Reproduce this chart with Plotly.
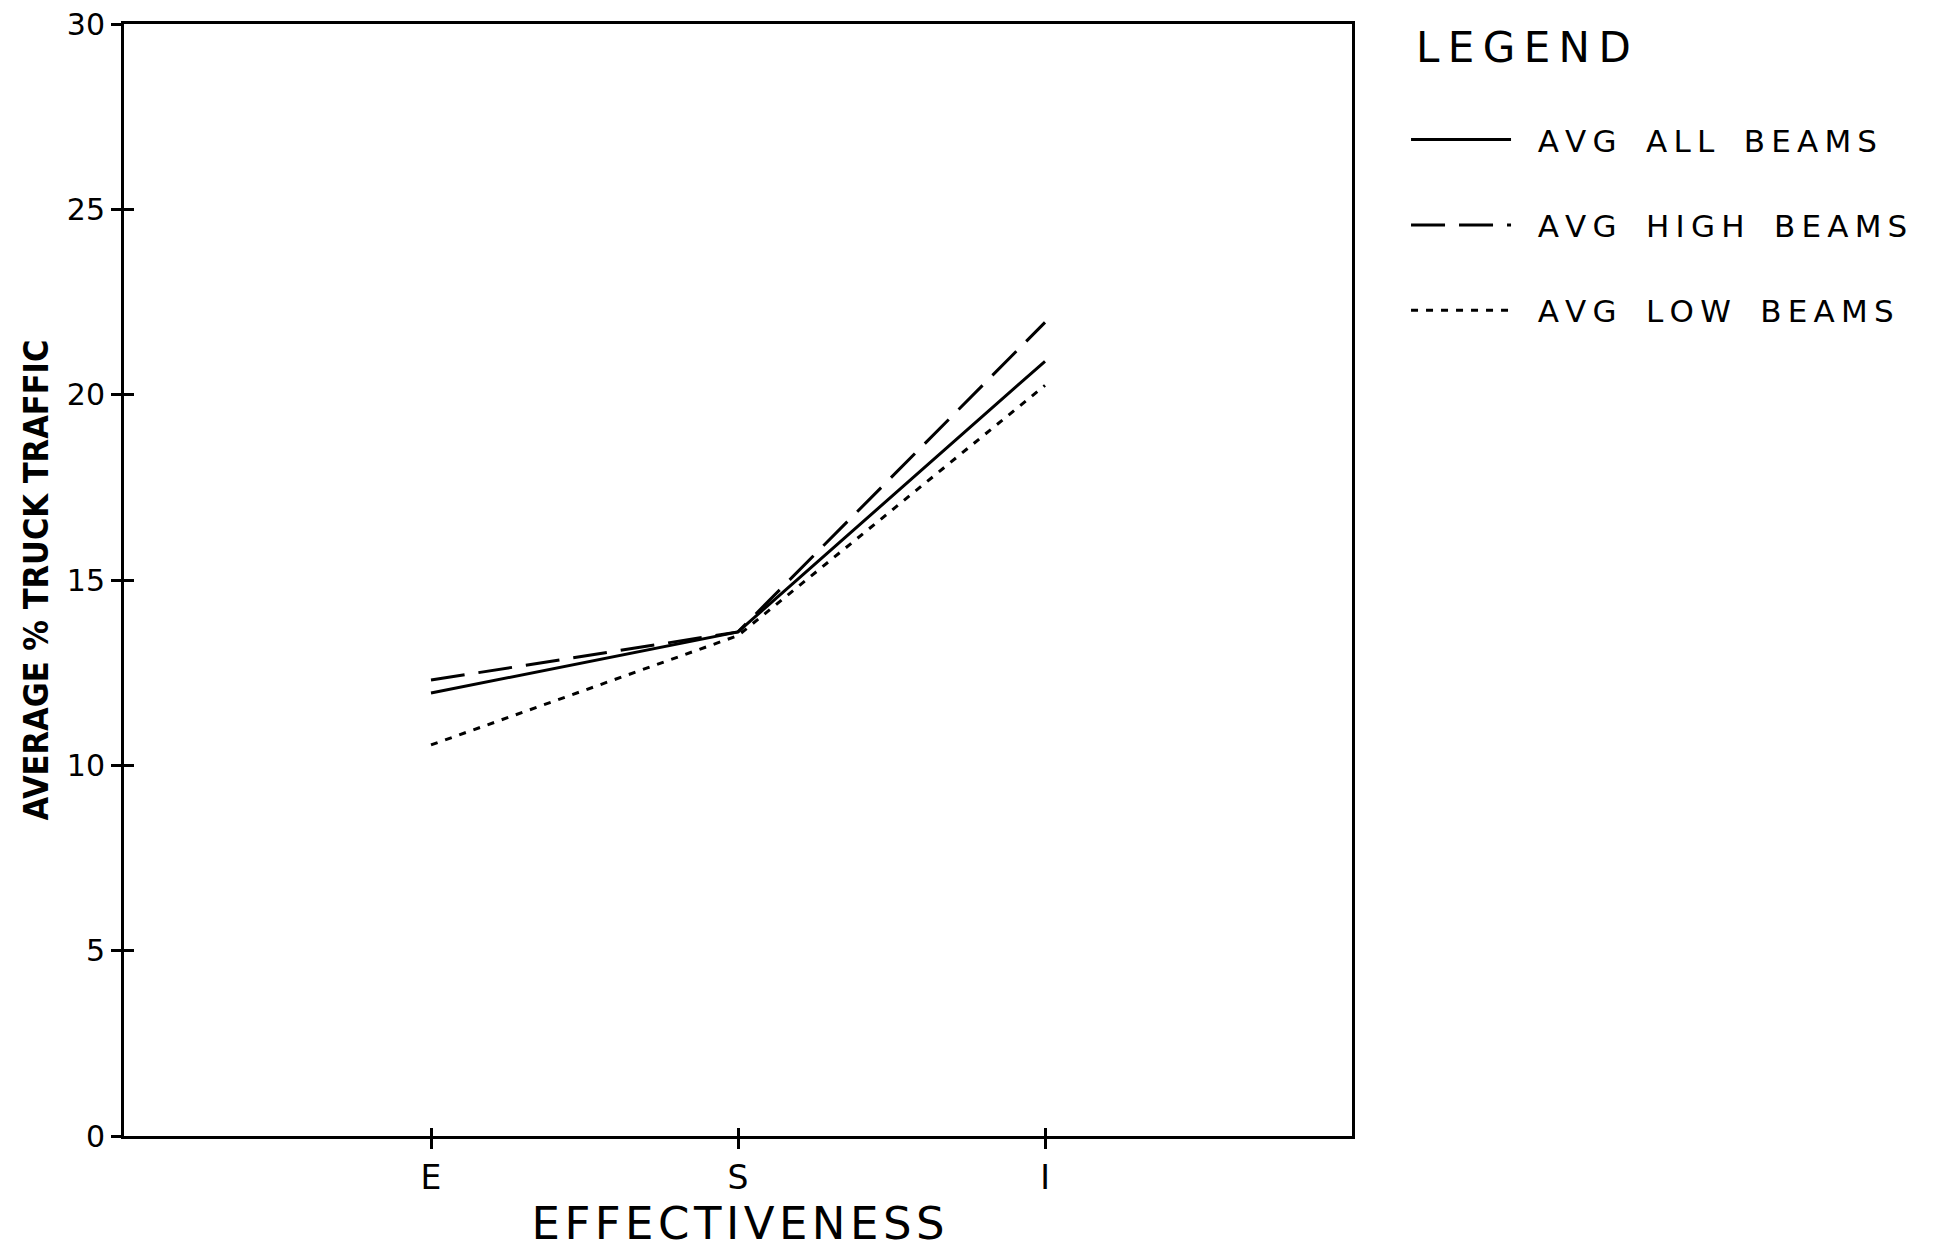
import plotly.graph_objects as go

categories = ["E", "S", "I"]
cat_pos = [0, 1, 2]
avg_all = [11.95, 13.6, 20.9]
avg_high = [12.3, 13.6, 21.95]
avg_low = [10.55, 13.5, 20.25]
y_ticks = [0, 5, 10, 15, 20, 25, 30]
series_names = ["AVG ALL BEAMS", "AVG HIGH BEAMS", "AVG LOW BEAMS"]

FONT = "DejaVu Sans, sans-serif"
NARROW = "DejaVu Sans Condensed, DejaVu Sans, sans-serif"
TS = "\u2009"  # thin space for letter spacing


def spaced(text, gap="\u00a0\u00a0"):
    words = text.split(" ")
    return gap.join(TS.join(w) for w in words)


fig = go.Figure()
styles = ["solid", "34px,14px", "7px,8px"]
for i, (name, vals, st) in enumerate(zip(series_names, [avg_all, avg_high, avg_low], styles)):
    fig.add_trace(go.Scatter(
        x=cat_pos, y=vals, mode="lines",
        name="\u2002\u2009" + spaced(name, "\u00a0\u00a0\u00a0"),
        legendgroup=f"g{i}",
        line=dict(color="black", width=3, dash=st),
    ))

# invisible trace to carry the overlay axes that draw the inner half of the crossing ticks
fig.add_trace(go.Scatter(x=[None], y=[None], xaxis="x2", yaxis="y2",
                         showlegend=False, hoverinfo="skip"))

fig.add_annotation(
    text=spaced("LEGEND"), xref="paper", yref="paper",
    x=1.0505, y=0.9785, xanchor="left", yanchor="middle",
    showarrow=False, font=dict(size=42, family=FONT, color="black"),
)

fig.update_layout(
    width=1945, height=1250,
    paper_bgcolor="white", plot_bgcolor="white",
    margin=dict(l=124, r=593, t=24, b=114),
    font=dict(family=FONT, color="black", size=30),
    showlegend=True,
    legend=dict(
        x=1.044, y=0.92, xanchor="left", yanchor="top",
        font=dict(size=31, family=FONT),
        itemwidth=100, tracegroupgap=42, traceorder="grouped",
        bgcolor="rgba(0,0,0,0)",
    ),
    xaxis=dict(
        range=[-1, 3], tickmode="array", tickvals=cat_pos, ticktext=categories,
        showgrid=False, zeroline=False, automargin=False,
        showline=True, linecolor="black", linewidth=3, mirror=True,
        ticks="outside", ticklen=10, tickwidth=3, tickcolor="black",
        tickfont=dict(size=33, family=FONT),
        title=dict(text=spaced("EFFECTIVENESS").replace(TS, "\u200a"),
                   font=dict(size=45, family=FONT), standoff=12),
    ),
    yaxis=dict(
        range=[0, 30], tickmode="array", tickvals=y_ticks,
        ticktext=[str(v) for v in y_ticks],
        showgrid=False, zeroline=False, automargin=False,
        showline=True, linecolor="black", linewidth=3, mirror=True,
        ticks="outside", ticklen=10, tickwidth=3, tickcolor="black",
        tickfont=dict(size=30, family=FONT),
        title=dict(text="<b>AVERAGE % TRUCK TRAFFIC</b>",
                   font=dict(size=34, family=NARROW), standoff=8),
    ),
    xaxis2=dict(
        overlaying="x", anchor="y2", matches="x", range=[-1, 3],
        tickmode="array", tickvals=cat_pos,
        showticklabels=False, showgrid=False, zeroline=False, showline=False,
        ticks="inside", ticklen=8, tickwidth=3, tickcolor="black",
    ),
    yaxis2=dict(
        overlaying="y", anchor="x2", matches="y", range=[0, 30],
        tickmode="array", tickvals=y_ticks[1:-1],
        showticklabels=False, showgrid=False, zeroline=False, showline=False,
        ticks="inside", ticklen=10, tickwidth=3, tickcolor="black",
    ),
)

fig.write_html("out.html")
